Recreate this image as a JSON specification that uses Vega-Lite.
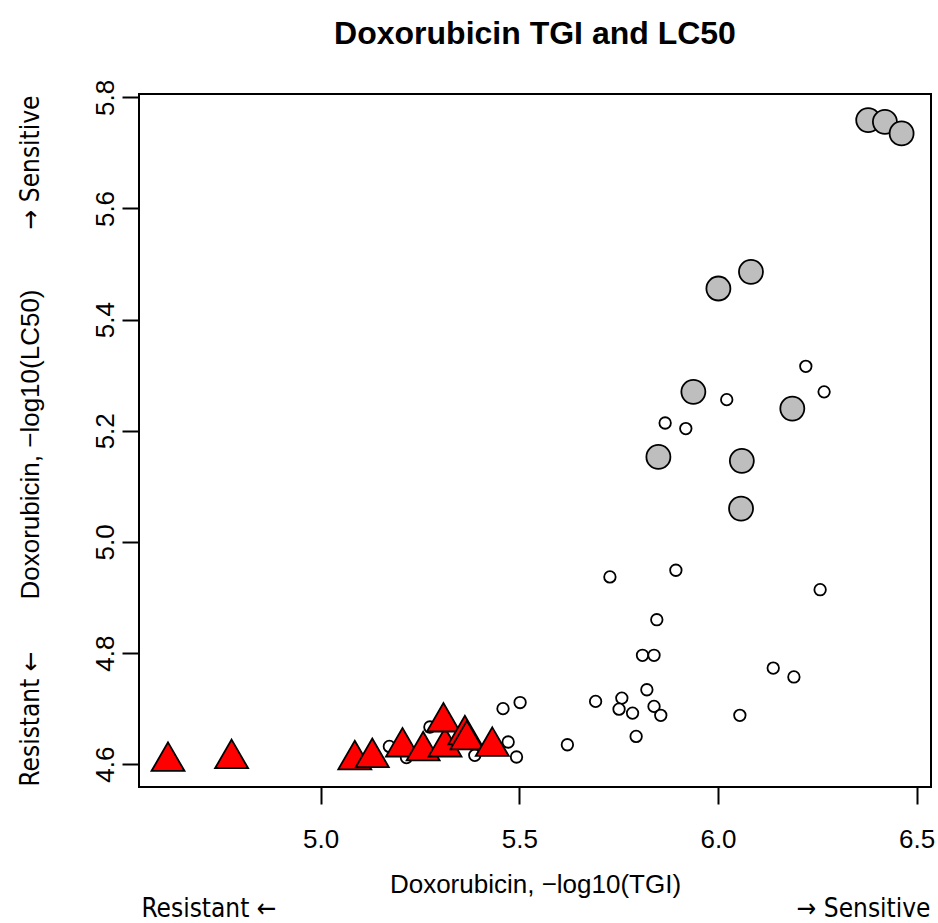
{
  "$schema": "https://vega.github.io/schema/vega-lite/v6.json",
  "width": 792,
  "height": 693,
  "autosize": {"type": "none"},
  "padding": {"left": 139, "top": 94, "right": 7, "bottom": 136},
  "background": "white",
  "title": {
    "text": "Doxorubicin TGI and LC50",
    "font": "Liberation Sans",
    "fontSize": 32,
    "fontWeight": "bold",
    "color": "black",
    "anchor": "middle",
    "frame": "group",
    "baseline": "alphabetic",
    "offset": 3
  },
  "config": {
    "view": {"stroke": "black", "strokeWidth": 2},
    "font": "Liberation Sans",
    "axis": {
      "grid": false,
      "domain": false,
      "tickColor": "black",
      "tickWidth": 2,
      "tickSize": 17,
      "labelColor": "black",
      "labelFont": "Liberation Sans",
      "labelFontSize": 26,
      "titleColor": "black",
      "titleFont": "Liberation Sans",
      "titleFontSize": 26,
      "titleFontWeight": "normal",
      "labelFlush": false,
      "labelOverlap": false
    }
  },
  "datasets": {
    "cells": [
      {"group": "other", "tgi": 6.221, "lc50": 5.316},
      {"group": "other", "tgi": 6.267, "lc50": 5.270},
      {"group": "other", "tgi": 6.022, "lc50": 5.256},
      {"group": "other", "tgi": 5.867, "lc50": 5.214},
      {"group": "other", "tgi": 5.919, "lc50": 5.204},
      {"group": "other", "tgi": 5.728, "lc50": 4.937},
      {"group": "other", "tgi": 5.894, "lc50": 4.949},
      {"group": "other", "tgi": 6.257, "lc50": 4.914},
      {"group": "other", "tgi": 5.846, "lc50": 4.860},
      {"group": "other", "tgi": 5.810, "lc50": 4.796},
      {"group": "other", "tgi": 5.839, "lc50": 4.796},
      {"group": "other", "tgi": 6.139, "lc50": 4.773},
      {"group": "other", "tgi": 6.191, "lc50": 4.757},
      {"group": "other", "tgi": 5.821, "lc50": 4.734},
      {"group": "other", "tgi": 5.692, "lc50": 4.713},
      {"group": "other", "tgi": 5.758, "lc50": 4.719},
      {"group": "other", "tgi": 5.751, "lc50": 4.699},
      {"group": "other", "tgi": 5.785, "lc50": 4.692},
      {"group": "other", "tgi": 5.839, "lc50": 4.704},
      {"group": "other", "tgi": 5.856, "lc50": 4.688},
      {"group": "other", "tgi": 6.055, "lc50": 4.688},
      {"group": "other", "tgi": 5.794, "lc50": 4.650},
      {"group": "other", "tgi": 5.621, "lc50": 4.635},
      {"group": "other", "tgi": 5.459, "lc50": 4.700},
      {"group": "other", "tgi": 5.502, "lc50": 4.711},
      {"group": "other", "tgi": 5.472, "lc50": 4.640},
      {"group": "other", "tgi": 5.493, "lc50": 4.613},
      {"group": "other", "tgi": 5.388, "lc50": 4.616},
      {"group": "other", "tgi": 5.216, "lc50": 4.612},
      {"group": "other", "tgi": 5.173, "lc50": 4.632},
      {"group": "other", "tgi": 5.275, "lc50": 4.667},
      {"group": "sensitive", "tgi": 6.378, "lc50": 5.759},
      {"group": "sensitive", "tgi": 6.420, "lc50": 5.756},
      {"group": "sensitive", "tgi": 6.462, "lc50": 5.735},
      {"group": "sensitive", "tgi": 6.001, "lc50": 5.456},
      {"group": "sensitive", "tgi": 6.083, "lc50": 5.486},
      {"group": "sensitive", "tgi": 5.938, "lc50": 5.270},
      {"group": "sensitive", "tgi": 6.187, "lc50": 5.240},
      {"group": "sensitive", "tgi": 5.850, "lc50": 5.153},
      {"group": "sensitive", "tgi": 6.060, "lc50": 5.146},
      {"group": "sensitive", "tgi": 6.058, "lc50": 5.060},
      {"group": "resistant", "tgi": 4.616, "lc50": 4.605},
      {"group": "resistant", "tgi": 4.776, "lc50": 4.610},
      {"group": "resistant", "tgi": 5.086, "lc50": 4.608},
      {"group": "resistant", "tgi": 5.130, "lc50": 4.612},
      {"group": "resistant", "tgi": 5.206, "lc50": 4.631},
      {"group": "resistant", "tgi": 5.258, "lc50": 4.624},
      {"group": "resistant", "tgi": 5.313, "lc50": 4.631},
      {"group": "resistant", "tgi": 5.309, "lc50": 4.676},
      {"group": "resistant", "tgi": 5.363, "lc50": 4.653},
      {"group": "resistant", "tgi": 5.368, "lc50": 4.644},
      {"group": "resistant", "tgi": 5.432, "lc50": 4.632}
    ]
  },
  "data": {"name": "cells"},
  "resolve": {"axis": {"x": "independent", "y": "independent"}},
  "layer": [
    {
      "transform": [{"filter": "datum.group === 'other'"}],
      "mark": {"type": "point", "shape": "circle", "filled": true, "fill": "white", "stroke": "black", "strokeWidth": 1.8, "size": 132, "opacity": 1},
      "encoding": {
        "x": {
          "field": "tgi", "type": "quantitative",
          "scale": {"domain": [4.543, 6.536], "nice": false, "zero": false},
          "axis": {
            "orient": "bottom",
            "title": "Doxorubicin, \u2212log10(TGI)",
            "values": [5, 5.5, 6, 6.5],
            "format": ".1f",
            "labelBaseline": "alphabetic",
            "labelPadding": 43,
            "titleX": 396,
            "titleY": 105,
            "titleAlign": "center",
            "titleBaseline": "alphabetic"
          }
        },
        "y": {
          "field": "lc50", "type": "quantitative",
          "scale": {"domain": [4.559, 5.806], "nice": false, "zero": false},
          "axis": {
            "orient": "left",
            "title": "Doxorubicin, \u2212log10(LC50)",
            "values": [4.6, 4.8, 5.0, 5.2, 5.4, 5.6, 5.8],
            "format": ".1f",
            "labelAngle": 270,
            "labelAlign": "center",
            "labelBaseline": "alphabetic",
            "labelPadding": 9,
            "titleAngle": 270,
            "titleX": -101,
            "titleY": 350,
            "titleAlign": "center",
            "titleBaseline": "alphabetic"
          }
        }
      }
    },
    {
      "transform": [{"filter": "datum.group === 'sensitive'"}],
      "mark": {"type": "point", "shape": "circle", "filled": true, "fill": "#BEBEBE", "stroke": "black", "strokeWidth": 1.8, "size": 576, "opacity": 1},
      "encoding": {
        "x": {
          "field": "tgi", "type": "quantitative",
          "scale": {"domain": [4.543, 6.536], "nice": false, "zero": false},
          "axis": {
            "orient": "bottom",
            "title": "Resistant \u2190",
            "ticks": false, "labels": false, "domain": false,
            "titleFont": "DejaVu Sans Condensed, DejaVu Sans",
            "titleFontSize": 26,
            "titleX": 2,
            "titleY": 129,
            "titleAlign": "left",
            "titleBaseline": "alphabetic"
          }
        },
        "y": {
          "field": "lc50", "type": "quantitative",
          "scale": {"domain": [4.559, 5.806], "nice": false, "zero": false},
          "axis": {
            "orient": "left",
            "title": "Resistant \u2190",
            "ticks": false, "labels": false, "domain": false,
            "titleFont": "DejaVu Sans Condensed, DejaVu Sans",
            "titleFontSize": 26,
            "titleAngle": 270,
            "titleX": -101,
            "titleY": 692,
            "titleAlign": "left",
            "titleBaseline": "alphabetic"
          }
        }
      }
    },
    {
      "transform": [{"filter": "datum.group === 'resistant'"}],
      "mark": {"type": "point", "shape": "M0,-1.1547L1,0.5774L-1,0.5774Z", "filled": true, "fill": "#FF0000", "stroke": "black", "strokeWidth": 1.8, "size": 1089, "opacity": 1},
      "encoding": {
        "x": {
          "field": "tgi", "type": "quantitative",
          "scale": {"domain": [4.543, 6.536], "nice": false, "zero": false},
          "axis": {
            "orient": "bottom",
            "title": "\u2192 Sensitive",
            "ticks": false, "labels": false, "domain": false,
            "titleFont": "DejaVu Sans Condensed, DejaVu Sans",
            "titleFontSize": 26,
            "titleX": 791,
            "titleY": 129,
            "titleAlign": "right",
            "titleBaseline": "alphabetic"
          }
        },
        "y": {
          "field": "lc50", "type": "quantitative",
          "scale": {"domain": [4.559, 5.806], "nice": false, "zero": false},
          "axis": {
            "orient": "left",
            "title": "\u2192 Sensitive",
            "ticks": false, "labels": false, "domain": false,
            "titleFont": "DejaVu Sans Condensed, DejaVu Sans",
            "titleFontSize": 26,
            "titleAngle": 270,
            "titleX": -101,
            "titleY": 1,
            "titleAlign": "right",
            "titleBaseline": "alphabetic"
          }
        }
      }
    }
  ]
}
